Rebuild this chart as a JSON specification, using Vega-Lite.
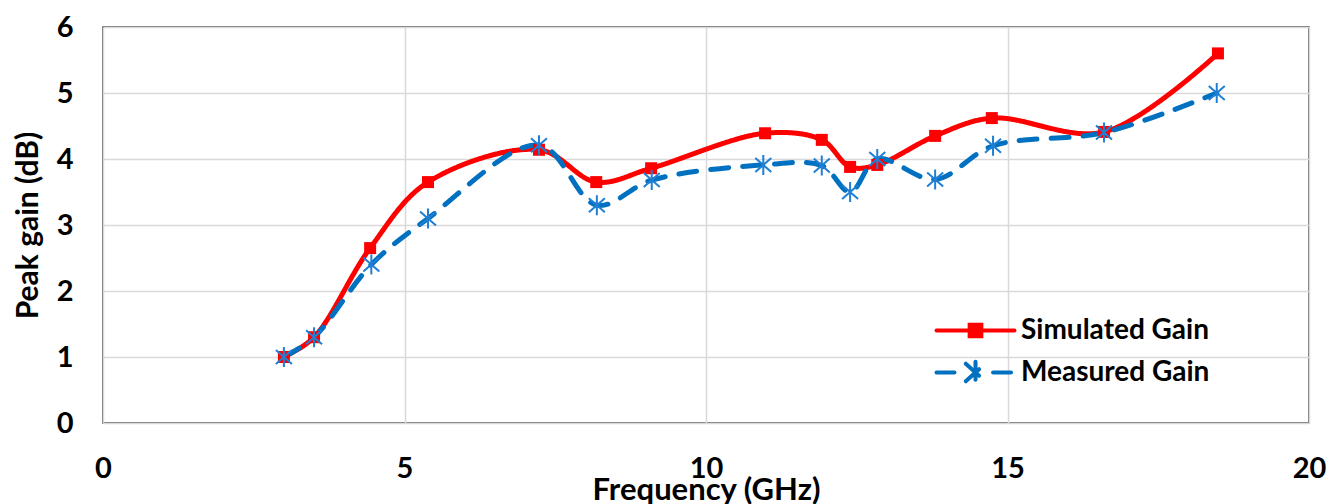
{
  "$schema": "https://vega.github.io/schema/vega-lite/v6.json",
  "width": 1206,
  "height": 396,
  "autosize": {"type": "none"},
  "padding": {"left": 103, "top": 27, "right": 32, "bottom": 81},
  "background": "white",
  "config": {
    "view": {"stroke": "#404040", "strokeWidth": 1.5},
    "font": "Lato"
  },
  "data": {
    "values": [
      {"series": "Simulated Gain", "freq": 3.0, "gain": 1.0},
      {"series": "Simulated Gain", "freq": 3.5, "gain": 1.3},
      {"series": "Simulated Gain", "freq": 4.43, "gain": 2.65},
      {"series": "Simulated Gain", "freq": 5.39, "gain": 3.65},
      {"series": "Simulated Gain", "freq": 7.23, "gain": 4.14},
      {"series": "Simulated Gain", "freq": 8.18, "gain": 3.65},
      {"series": "Simulated Gain", "freq": 9.09, "gain": 3.86},
      {"series": "Simulated Gain", "freq": 10.98, "gain": 4.39},
      {"series": "Simulated Gain", "freq": 11.92, "gain": 4.29},
      {"series": "Simulated Gain", "freq": 12.39, "gain": 3.88},
      {"series": "Simulated Gain", "freq": 12.84, "gain": 3.91},
      {"series": "Simulated Gain", "freq": 13.8, "gain": 4.35},
      {"series": "Simulated Gain", "freq": 14.74, "gain": 4.62},
      {"series": "Simulated Gain", "freq": 16.6, "gain": 4.41},
      {"series": "Simulated Gain", "freq": 18.49, "gain": 5.6},
      {"series": "Measured Gain", "freq": 3.0, "gain": 1.0},
      {"series": "Measured Gain", "freq": 3.5, "gain": 1.3},
      {"series": "Measured Gain", "freq": 4.45, "gain": 2.4},
      {"series": "Measured Gain", "freq": 5.39, "gain": 3.1},
      {"series": "Measured Gain", "freq": 7.23, "gain": 4.21},
      {"series": "Measured Gain", "freq": 8.19, "gain": 3.3},
      {"series": "Measured Gain", "freq": 9.1, "gain": 3.68},
      {"series": "Measured Gain", "freq": 10.95, "gain": 3.91},
      {"series": "Measured Gain", "freq": 11.92, "gain": 3.9},
      {"series": "Measured Gain", "freq": 12.39, "gain": 3.5},
      {"series": "Measured Gain", "freq": 12.84, "gain": 4.0},
      {"series": "Measured Gain", "freq": 13.8, "gain": 3.69},
      {"series": "Measured Gain", "freq": 14.76, "gain": 4.2},
      {"series": "Measured Gain", "freq": 16.6, "gain": 4.4},
      {"series": "Measured Gain", "freq": 18.47, "gain": 5.0}
    ]
  },
  "encoding": {
    "x": {
      "field": "freq", "type": "quantitative",
      "scale": {"domain": [0, 20], "nice": false, "zero": false},
      "axis": {
        "values": [0, 5, 10, 15, 20],
        "title": "Frequency (GHz)",
        "grid": true, "gridColor": "#d9d9d9", "gridWidth": 1.5,
        "domain": false, "ticks": false,
        "labelFont": "Lato", "labelFontSize": 29, "labelFontWeight": "bold", "labelColor": "#000000",
        "labelPadding": 31, "labelBaseline": "top", "labelFlush": false,
        "titleFont": "Lato", "titleFontSize": 31, "titleFontWeight": "bold", "titleColor": "#000000",
        "titleBaseline": "top", "titleY": 52
      }
    },
    "y": {
      "field": "gain", "type": "quantitative",
      "scale": {"domain": [0, 6], "nice": false},
      "axis": {
        "values": [0, 1, 2, 3, 4, 5, 6],
        "title": "Peak gain (dB)",
        "grid": true, "gridColor": "#d9d9d9", "gridWidth": 1.5,
        "domain": false, "ticks": false,
        "labelFont": "Lato", "labelFontSize": 29, "labelFontWeight": "bold", "labelColor": "#000000",
        "labelPadding": 30, "labelFlush": false,
        "titleFont": "Lato", "titleFontSize": 30, "titleFontWeight": "bold", "titleColor": "#000000",
        "titleBaseline": "middle", "titleX": -75, "titleY": 198, "titleAngle": -90, "titleAlign": "center"
      }
    }
  },
  "layer": [
    {
      "mark": {"type": "line", "interpolate": "catmull-rom", "strokeWidth": 5, "strokeCap": "round"},
      "encoding": {
        "color": {
          "field": "series", "type": "nominal",
          "scale": {"domain": ["Simulated Gain", "Measured Gain"], "range": ["#FF0000", "#0070C0"]},
          "legend": {
            "title": null,
            "orient": "none",
            "legendX": 851,
            "legendY": 282,
            "padding": 0,
            "rowPadding": 6,
            "symbolSize": 1521,
            "symbolStrokeWidth": 4,
            "labelOffset": 24,
            "labelLimit": 400,
            "labelFont": "Lato", "labelFontSize": 28, "labelFontWeight": "bold", "labelColor": "#000000",
            "encode": {
              "symbols": {
                "update": {
                  "shape": {"signal": "datum.value === 'Simulated Gain' ? 'M-2,0L2,0M-0.3,-0.3L0.3,-0.3L0.3,0.3L-0.3,0.3Z' : 'M-2,0L-0.9,0M0.9,0L2,0M0,-0.55L0,0.55M-0.5,-0.45L0.5,0.45M-0.5,0.45L0.5,-0.45'"},
                  "fill": {"signal": "datum.value === 'Simulated Gain' ? '#FF0000' : 'transparent'"},
                  "stroke": {"signal": "datum.value === 'Simulated Gain' ? '#FF0000' : '#0070C0'"},
                  "strokeWidth": {"value": 4},
                  "strokeCap": {"value": "round"}
                }
              }
            }
          }
        },
        "strokeDash": {
          "field": "series", "type": "nominal",
          "scale": {"domain": ["Simulated Gain", "Measured Gain"], "range": [[1, 0], [18, 14]]},
          "legend": null
        }
      }
    },
    {
      "transform": [{"filter": "datum.series === 'Simulated Gain'"}],
      "mark": {"type": "point", "shape": "square", "filled": true, "color": "#FF0000", "size": 144, "opacity": 1}
    },
    {
      "transform": [{"filter": "datum.series === 'Measured Gain'"}],
      "mark": {
        "type": "point",
        "shape": "M0,-1L0,1M-0.8,-0.7L0.8,0.7M-0.8,0.7L0.8,-0.7",
        "filled": false, "color": "#1F7FD4", "strokeWidth": 2, "size": 400, "opacity": 1
      }
    }
  ]
}
